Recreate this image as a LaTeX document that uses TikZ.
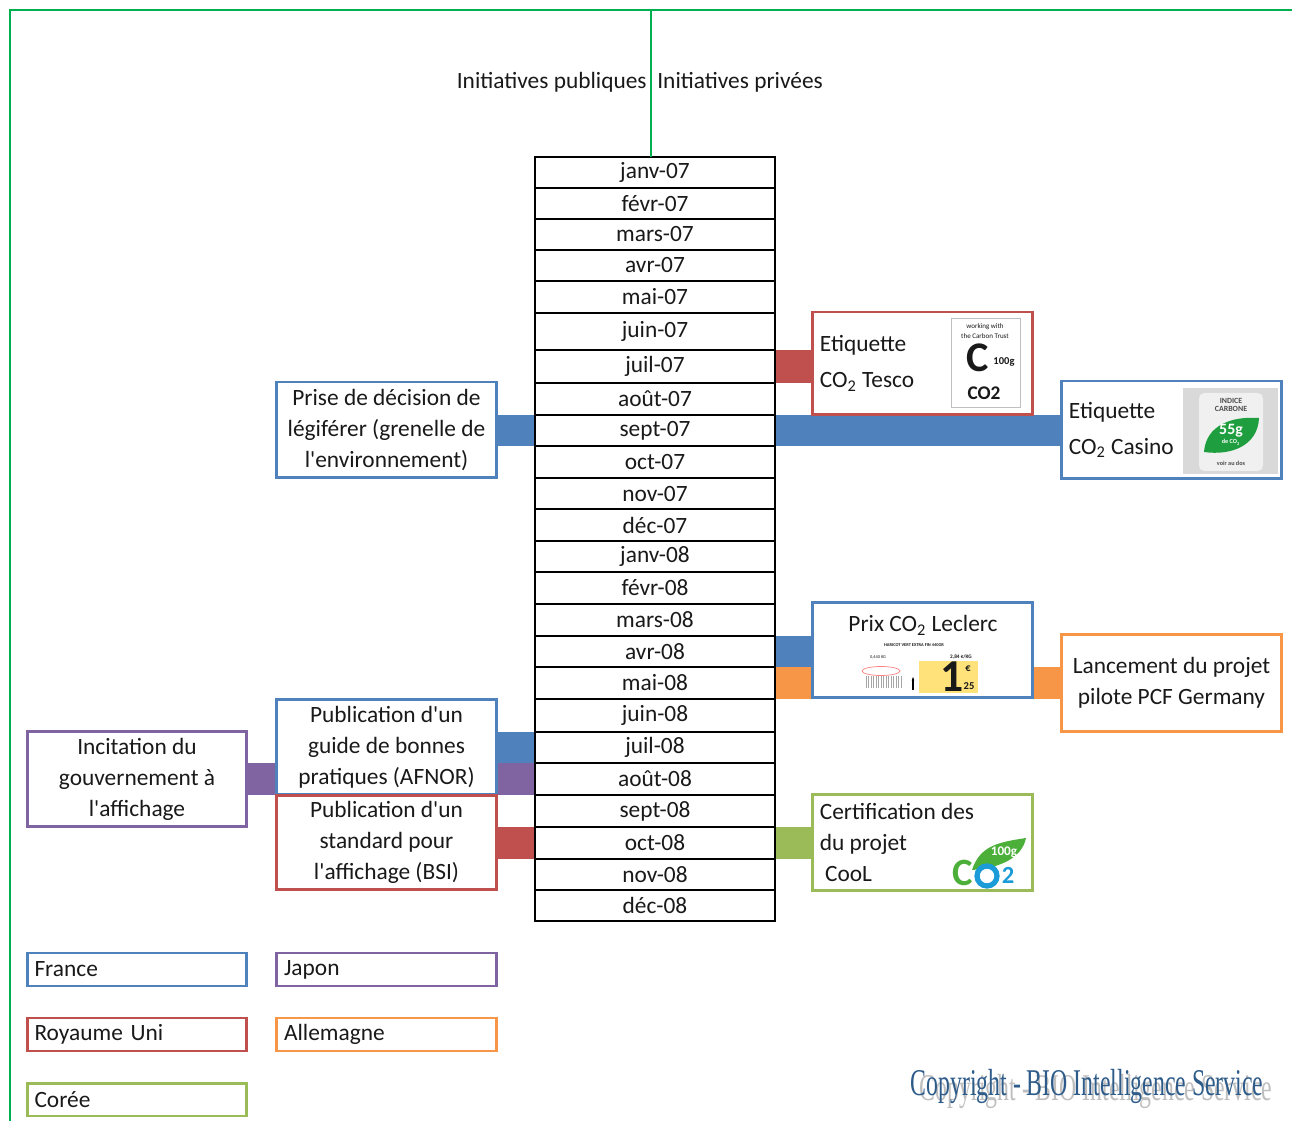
\documentclass[tikz,border=0pt]{standalone}
\usepackage{fontspec}
\setmainfont{Carlito}
\newfontfamily\copyfont{Liberation Serif}
\usetikzlibrary{backgrounds,arrows.meta}
\definecolor{cblue}{HTML}{4F81BD}
\definecolor{cred}{HTML}{C0504D}
\definecolor{cpurple}{HTML}{8064A2}
\definecolor{corange}{HTML}{F79646}
\definecolor{cgreen}{HTML}{9BBB59}
\definecolor{cframe}{HTML}{00B050}
\definecolor{cleaf}{HTML}{1E9E3E}
\definecolor{cleafb}{HTML}{4CAF3A}
\definecolor{cskyb}{HTML}{1B9BD7}
\definecolor{cyel}{HTML}{FFE27A}
\definecolor{ccopy}{HTML}{2E5C8A}
\newcommand{\evtfont}{\fontsize{13.3pt}{17.6pt}\selectfont}
\newcommand{\tagfont}{\fontsize{13.3pt}{20.4pt}\selectfont}
\newcommand{\logosize}[1]{\fontsize{#1pt}{#1pt}\selectfont}
\newcommand{\q}{\textquotesingle}
\begin{document}
\begin{tikzpicture}[x=0.02cm, y=-0.02cm, font=\evtfont, text=black!90,
    row/.style={draw, line width=0.85pt, outer sep=0pt, inner sep=0pt, minimum width=4.8cm},
    evt/.style={draw=#1, line width=1.7pt, outer sep=0pt, inner sep=0pt, fill=white,
      minimum width=4.4cm, minimum height=1.92cm, align=center},
    legend/.style={draw=#1, line width=1.7pt, outer sep=0pt, minimum height=0.66cm,
      text width=4.1cm, inner xsep=0.15cm, inner ysep=0pt, align=left},
    frame/.style={draw=cframe, line width=1.4pt}]
      \useasboundingbox (0,0) rectangle (1292,1121);

      \coordinate (bl) at (10,1121);
      \coordinate (tl) at (10,10);
      \coordinate (tr) at (1292,10);
      \coordinate (mid) at (651,10);

      \node[anchor=east, inner sep=0pt] (pub) at (647,82) {Initiatives publiques};
      \node[anchor=west, inner sep=0pt] (priv) at (657,82) {Initiatives privées};

      \foreach \t/\b/\m [count=\i] in {157/188/janv-07, 188/219/févr-07, 219/250/mars-07,
          250/281/avr-07, 281/313/mai-07, 313/350/juin-07, 350/383/juil-07, 383/415/août-07,
          415/446/sept-07, 446/478/oct-07, 478/509/nov-07, 509/541/déc-07, 541/572/janv-08,
          572/604/févr-08, 604/636/mars-08, 636/667/avr-08, 667/699/mai-08, 699/732/juin-08,
          732/763/juil-08, 763/795/août-08, 795/827/sept-08, 827/859/oct-08, 859/890/nov-08,
          890/921/déc-08}
        \node[row, minimum height={(\b-\t)*0.02cm}] (m\i) at (655,{(\t+\b)/2}) {\m};

      \draw[frame] (bl) -- (tl) -- (tr);
      \draw[frame, line width=1.1pt] (mid) -- (mid |- m1.north);

      \node[evt=cblue] (prise) at (386.5,430)
        {Prise de décision de\\légiférer (grenelle de\\l\q environnement)};
      \node[evt=cpurple] (incit) at (137,779) {Incitation du\\gouvernement à\\l\q affichage};
      \node[evt=cblue] (afnor) at (386.5,747) {Publication d\q un\\guide de bonnes\\pratiques (AFNOR)};
      \node[evt=cred, minimum height=1.9cm] (bsi) at (386.5,842.5)
        {Publication d\q un\\standard pour\\l\q affichage (BSI)};

      \node[evt=cred, minimum height=2.06cm] (tesco) at (922.5,363.5) {};
      \node[evt=cblue, minimum height=1.96cm] (casino) at (1171.5,430) {};
      \node[evt=cblue] (leclerc) at (922.5,650) {};
      \node[evt=corange, minimum height=1.96cm] (lance) at (1171.5,683)
        {Lancement du projet\\pilote PCF Germany};
      \node[evt=cgreen, minimum height=1.94cm] (cool) at (922.5,842.5) {};

      \node[anchor=west, align=left, font=\tagfont, inner sep=0pt] (tescotxt)
        at ([xshift=0.14cm]tesco.west) {Etiquette\\CO\textsubscript{2} Tesco};
      \node[anchor=west, align=left, font=\tagfont, inner sep=0pt] (casinotxt)
        at ([xshift=0.14cm]casino.west) {Etiquette\\CO\textsubscript{2} Casino};
      \node[inner sep=0pt] (leclerctxt) at (923,625) {Prix CO\textsubscript{2} Leclerc};
      \node[anchor=west, align=left, inner sep=0pt] (cooltxt)
        at ([xshift=0.14cm]cool.west) {Certification des\\du projet\\\hspace{3pt}CooL};

      \begin{pgfonlayer}{background}
        \fill[cblue] (prise.east |- m9.north) rectangle (m9.south west);
        \fill[cblue] (m9.north east) rectangle (casino.west |- m9.south);
        \fill[cred] (m7.north east) rectangle (tesco.west |- m7.south);
        \fill[cblue] (m16.north east) rectangle (leclerc.west |- m16.south);
        \fill[corange] (m17.north east) rectangle (leclerc.west |- m17.south);
        \fill[corange] (leclerc.east |- m17.north) rectangle (lance.west |- m17.south);
        \fill[cgreen] (m22.north east) rectangle (cool.west |- m22.south);
        \fill[cblue] (afnor.east |- m19.north) rectangle (m19.south west);
        \fill[cpurple] (afnor.east |- m20.north) rectangle (m20.south west);
        \fill[cpurple] (incit.east |- m20.north) rectangle (afnor.west |- m20.south);
        \fill[cred] (bsi.east |- m22.north) rectangle (m22.south west);
      \end{pgfonlayer}

      \node[draw=gray!50, line width=0.4pt, minimum width=1.38cm, minimum height=1.78cm,
        inner sep=0pt] (tlogo) at (985.5,362.5) {};
      \node[font={\logosize{4}}] (twork) at (985,327) {working with};
      \node[font={\logosize{4}}] (ttrust) at (985,336) {the Carbon Trust};
      \node[font={\bfseries\logosize{24}}, inner sep=0pt] (tc) at (978,358) {C};
      \node[font={\bfseries\logosize{6}}] (tg) at (1004,362) {100g};
      \node[font={\bfseries\logosize{11}}, inner sep=0pt] (tco) at (984,393) {CO2};

      \fill[gray!30] (1183,388) rectangle (1278,474);
      \fill[gray!12, rounded corners=3pt] (1199,393) rectangle (1263,471);
      \node[font={\bfseries\logosize{4.5}}, text=gray!60!black, align=center] (cind)
        at (1231,405) {INDICE\\CARBONE};
      \fill[cleaf] (1204,452) .. controls (1206,425) and (1232,416) .. (1259,418)
        .. controls (1258,445) and (1232,456) .. cycle;
      \node[font={\bfseries\logosize{9}}, text=white] (c55) at (1231,431) {55g};
      \node[font={\bfseries\logosize{3.5}}, text=white] (cde) at (1231,442) {de CO\textsubscript{2}};
      \node[font={\bfseries\logosize{3.5}}, text=gray!60!black] (cvoir) at (1231,463) {voir au dos};

      \node[font={\bfseries\logosize{2.5}}] (lhar) at (914,645) {HARICOT VERT EXTRA FIN 440GR};
      \node[font={\logosize{2.5}}] (lkg) at (878,657) {0,440 KG};
      \node[font={\bfseries\logosize{3}}] (lprix) at (961,657) {2,84 €/KG};
      \foreach \x in {866,868.5,...,902}
        \draw[gray!70, line width=0.5pt] (\x,676) -- (\x,688);
      \draw[red!50, line width=0.4pt] (881,671) ellipse [x radius=0.38cm, y radius=0.09cm];
      \draw[-{Stealth[length=2pt]}, line width=0.6pt] (913,690) -- (913,677);
      \fill[cyel] (919,661) rectangle (978,693);
      \node[font={\bfseries\logosize{26}}] (lun) at (952,677) {1};
      \node[font={\bfseries\logosize{6}}] (leur) at (968,669) {€};
      \node[font={\bfseries\logosize{6}}] (lct) at (969,686) {25};

      \fill[cleafb] (972,870) .. controls (980,845) and (1000,842) .. (1026,838)
        .. controls (1022,858) and (1000,868) .. cycle;
      \node[font={\bfseries\logosize{7.5}}, text=white] (k100) at (1004,852) {100g};
      \node[font={\bfseries\logosize{22}}, text=cleafb] (kc) at (963,873) {C};
      \draw[cskyb, line width=3pt] (987,876) circle [radius=0.2cm];
      \node[font={\bfseries\logosize{14}}, text=cskyb] (k2) at (1008,875) {2};

      \node[legend=cblue] (lfr) at (137,969.5) {France};
      \node[legend=cpurple] (ljp) at (386.5,969.5) {Japon};
      \node[legend=cred] (lru) at (137,1034.5) {Royaume Uni};
      \node[legend=corange] (lde) at (386.5,1034.5) {Allemagne};
      \node[legend=cgreen] (lkr) at (137,1099.5) {Corée};

      \node[font={\copyfont\logosize{21.5}}, text=gray!50] (copysh) at (1096,1091)
        {\scalebox{0.63}[1]{Copyright - BIO Intelligence Service}};
      \node[font={\copyfont\logosize{21.5}}, text=ccopy] (copy) at (1087,1086)
        {\scalebox{0.63}[1]{Copyright - BIO Intelligence Service}};
    \end{tikzpicture}
\end{document}
